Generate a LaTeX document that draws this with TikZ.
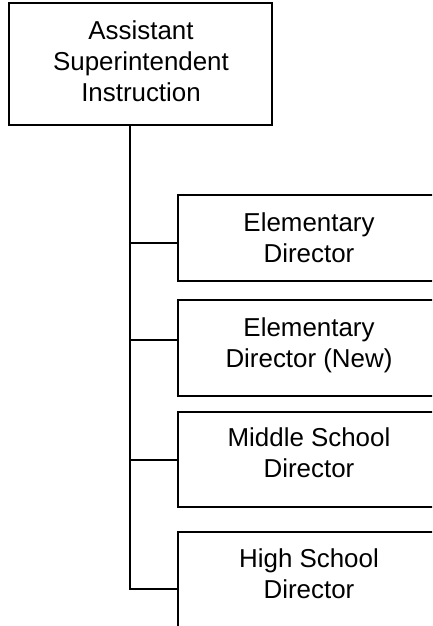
\documentclass[tikz,border=0pt]{standalone}
\usepackage{fontspec}
\setmainfont{Liberation Sans}
\begin{document}
\begin{tikzpicture}[x=1bp,y=-1bp,
  frame/.style={draw=black, line width=2bp, rectangle, inner sep=0pt},
  boxtext/.style={align=center, inner sep=0pt, anchor=north,
    font=\fontsize{26}{31}\selectfont},
  link/.style={draw=black, line width=2bp}
]
\useasboundingbox (0,0) rectangle (432,626);
\clip (0,0) rectangle (432,626);

% boxes
\node[frame, minimum width=262.5bp, minimum height=122bp] (top) at (140.75,64.5) {};
\node[frame, minimum width=263.5bp, minimum height=86bp]   (c1) at (309.25,238) {};
\node[frame, minimum width=263.5bp, minimum height=96bp]   (c2) at (309.25,348) {};
\node[frame, minimum width=263.5bp, minimum height=95.6bp] (c3) at (309.25,459.5) {};
\node[frame, minimum width=263.5bp, minimum height=128.5bp] (c4) at (309.25,595.75) {};

% labels
\node[boxtext] (ttop) at (141,20.5) {Assistant\\Superintendent\\Instruction};
\node[boxtext] (t1) at (309,213) {Elementary\\Director};
\node[boxtext] (t2) at (309,318) {Elementary\\Director (New)};
\node[boxtext] (t3) at (309,428) {Middle School\\Director};
\node[boxtext] (t4) at (309,549) {High School\\Director};

% trunk and branches
\coordinate (t0) at ([xshift=-11.25bp]top.south);
\coordinate (j1) at ([yshift=-5.3bp]c1.west);
\coordinate (j2) at ([yshift=8bp]c2.west);
\coordinate (j3) at (c3.west);
\coordinate (j4) at ([yshift=6.45bp]c4.west);
\draw[link] (t0) |- (j4);
\draw[link] (t0 |- j1) -- (j1);
\draw[link] (t0 |- j2) -- (j2);
\draw[link] (t0 |- j3) -- (j3);
\end{tikzpicture}
\end{document}
